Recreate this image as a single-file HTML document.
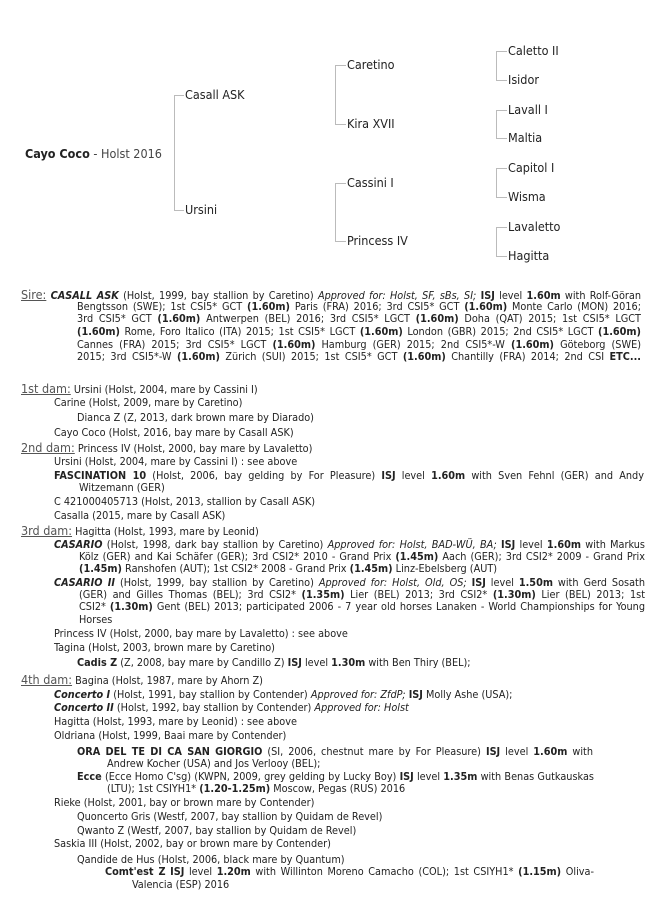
<!DOCTYPE html>
<html><head><meta charset="utf-8"><style>
html,body{margin:0;padding:0;background:#fff;}
body{width:670px;height:908px;position:relative;overflow:hidden;font-family:"DejaVu Sans Condensed","DejaVu Sans","Liberation Sans",sans-serif;color:#222;}
.t{position:absolute;font-size:12.5px;white-space:nowrap;line-height:14px;color:#222;}
.v{position:absolute;width:1px;background:#bbb;}
.h{position:absolute;height:1px;background:#bbb;}
.l{position:absolute;font-size:10.8px;line-height:12px;white-space:nowrap;}
.j{text-align:justify;text-align-last:justify;}
.lab{font-size:12.5px;color:#555;text-decoration:underline;}
b{font-weight:bold;}
</style></head><body>
<!-- tree -->
<div class="t" style="left:25px;top:147px;font-size:12.5px;"><b>Cayo Coco</b> <span style="color:#444">- Holst 2016</span></div>
<div class="v" style="left:174px;top:95px;height:116px;"></div>
<div class="h" style="left:174px;top:95px;width:10px;"></div>
<div class="h" style="left:174px;top:210px;width:10px;"></div>
<div class="t" style="left:185px;top:88px;">Casall ASK</div>
<div class="t" style="left:185px;top:203px;">Ursini</div>

<div class="v" style="left:335px;top:65px;height:59px;"></div>
<div class="h" style="left:335px;top:65px;width:11px;"></div>
<div class="h" style="left:335px;top:124px;width:11px;"></div>
<div class="v" style="left:335px;top:183px;height:58px;"></div>
<div class="h" style="left:335px;top:183px;width:11px;"></div>
<div class="h" style="left:335px;top:241px;width:11px;"></div>
<div class="t" style="left:347px;top:58px;">Caretino</div>
<div class="t" style="left:347px;top:117px;">Kira XVII</div>
<div class="t" style="left:347px;top:176px;">Cassini I</div>
<div class="t" style="left:347px;top:234px;">Princess IV</div>

<div class="v" style="left:496px;top:51px;height:29px;"></div>
<div class="h" style="left:496px;top:51px;width:11px;"></div>
<div class="h" style="left:496px;top:80px;width:11px;"></div>
<div class="v" style="left:496px;top:110px;height:28px;"></div>
<div class="h" style="left:496px;top:110px;width:11px;"></div>
<div class="h" style="left:496px;top:138px;width:11px;"></div>
<div class="v" style="left:496px;top:168px;height:29px;"></div>
<div class="h" style="left:496px;top:168px;width:11px;"></div>
<div class="h" style="left:496px;top:197px;width:11px;"></div>
<div class="v" style="left:496px;top:227px;height:29px;"></div>
<div class="h" style="left:496px;top:227px;width:11px;"></div>
<div class="h" style="left:496px;top:256px;width:11px;"></div>
<div class="t" style="left:508px;top:44px;">Caletto II</div>
<div class="t" style="left:508px;top:73px;">Isidor</div>
<div class="t" style="left:508px;top:103px;">Lavall I</div>
<div class="t" style="left:508px;top:131px;">Maltia</div>
<div class="t" style="left:508px;top:161px;">Capitol I</div>
<div class="t" style="left:508px;top:190px;">Wisma</div>
<div class="t" style="left:508px;top:220px;">Lavaletto</div>
<div class="t" style="left:508px;top:249px;">Hagitta</div>

<!-- Sire -->
<div class="l j" style="left:21px;top:289px;width:620px;"><span class="lab">Sire:</span> <b><i>CASALL ASK</i></b> (Holst, 1999, bay stallion by Caretino) <i>Approved for: Holst, SF, sBs, SI;</i> <b>ISJ</b> level <b>1.60m</b> with Rolf-Göran</div>
<div class="l j" style="left:77px;top:301px;width:564px;">Bengtsson (SWE); 1st CSI5* GCT <b>(1.60m)</b> Paris (FRA) 2016; 3rd CSI5* GCT <b>(1.60m)</b> Monte Carlo (MON) 2016;</div>
<div class="l j" style="left:77px;top:313px;width:564px;">3rd CSI5* GCT <b>(1.60m)</b> Antwerpen (BEL) 2016; 3rd CSI5* LGCT <b>(1.60m)</b> Doha (QAT) 2015; 1st CSI5* LGCT</div>
<div class="l j" style="left:77px;top:326px;width:564px;"><b>(1.60m)</b> Rome, Foro Italico (ITA) 2015; 1st CSI5* LGCT <b>(1.60m)</b> London (GBR) 2015; 2nd CSI5* LGCT <b>(1.60m)</b></div>
<div class="l j" style="left:77px;top:339px;width:564px;">Cannes (FRA) 2015; 3rd CSI5* LGCT <b>(1.60m)</b> Hamburg (GER) 2015; 2nd CSI5*-W <b>(1.60m)</b> Göteborg (SWE)</div>
<div class="l j" style="left:77px;top:351px;width:564px;">2015; 3rd CSI5*-W <b>(1.60m)</b> Zürich (SUI) 2015; 1st CSI5* GCT <b>(1.60m)</b> Chantilly (FRA) 2014; 2nd CSI <b>ETC...</b></div>

<!-- 1st dam -->
<div class="l" style="left:21px;top:383px;"><span class="lab">1st dam:</span> Ursini (Holst, 2004, mare by Cassini I)</div>
<div class="l" style="left:54px;top:397px;">Carine (Holst, 2009, mare by Caretino)</div>
<div class="l" style="left:77px;top:412px;">Dianca Z (Z, 2013, dark brown mare by Diarado)</div>
<div class="l" style="left:54px;top:427px;">Cayo Coco (Holst, 2016, bay mare by Casall ASK)</div>

<!-- 2nd dam -->
<div class="l" style="left:21px;top:442px;"><span class="lab">2nd dam:</span> Princess IV (Holst, 2000, bay mare by Lavaletto)</div>
<div class="l" style="left:54px;top:456px;">Ursini (Holst, 2004, mare by Cassini I) : see above</div>
<div class="l j" style="left:54px;top:470px;width:590px;"><b>FASCINATION 10</b> (Holst, 2006, bay gelding by For Pleasure) <b>ISJ</b> level <b>1.60m</b> with Sven Fehnl (GER) and Andy</div>
<div class="l" style="left:79px;top:482px;">Witzemann (GER)</div>
<div class="l" style="left:54px;top:496px;">C 421000405713 (Holst, 2013, stallion by Casall ASK)</div>
<div class="l" style="left:54px;top:510px;">Casalla (2015, mare by Casall ASK)</div>

<!-- 3rd dam -->
<div class="l" style="left:21px;top:525px;"><span class="lab">3rd dam:</span> Hagitta (Holst, 1993, mare by Leonid)</div>
<div class="l j" style="left:54px;top:539px;width:591px;"><b><i>CASARIO</i></b> (Holst, 1998, dark bay stallion by Caretino) <i>Approved for: Holst, BAD-WÜ, BA;</i> <b>ISJ</b> level <b>1.60m</b> with Markus</div>
<div class="l j" style="left:79px;top:551px;width:566px;">Kölz (GER) and Kai Schäfer (GER); 3rd CSI2* 2010 - Grand Prix <b>(1.45m)</b> Aach (GER); 3rd CSI2* 2009 - Grand Prix</div>
<div class="l" style="left:79px;top:563px;"><b>(1.45m)</b> Ranshofen (AUT); 1st CSI2* 2008 - Grand Prix <b>(1.45m)</b> Linz-Ebelsberg (AUT)</div>
<div class="l j" style="left:54px;top:577px;width:591px;"><b><i>CASARIO II</i></b> (Holst, 1999, bay stallion by Caretino) <i>Approved for: Holst, Old, OS;</i> <b>ISJ</b> level <b>1.50m</b> with Gerd Sosath</div>
<div class="l j" style="left:79px;top:589px;width:566px;">(GER) and Gilles Thomas (BEL); 3rd CSI2* <b>(1.35m)</b> Lier (BEL) 2013; 3rd CSI2* <b>(1.30m)</b> Lier (BEL) 2013; 1st</div>
<div class="l j" style="left:79px;top:601px;width:566px;">CSI2* <b>(1.30m)</b> Gent (BEL) 2013; participated 2006 - 7 year old horses Lanaken - World Championships for Young</div>
<div class="l" style="left:79px;top:614px;">Horses</div>
<div class="l" style="left:54px;top:628px;">Princess IV (Holst, 2000, bay mare by Lavaletto) : see above</div>
<div class="l" style="left:54px;top:642px;">Tagina (Holst, 2003, brown mare by Caretino)</div>
<div class="l" style="left:77px;top:657px;"><b>Cadis Z</b> (Z, 2008, bay mare by Candillo Z) <b>ISJ</b> level <b>1.30m</b> with Ben Thiry (BEL);</div>

<!-- 4th dam -->
<div class="l" style="left:21px;top:674px;"><span class="lab">4th dam:</span> Bagina (Holst, 1987, mare by Ahorn Z)</div>
<div class="l" style="left:54px;top:689px;"><b><i>Concerto I</i></b> (Holst, 1991, bay stallion by Contender) <i>Approved for: ZfdP;</i> <b>ISJ</b> Molly Ashe (USA);</div>
<div class="l" style="left:54px;top:702px;"><b><i>Concerto II</i></b> (Holst, 1992, bay stallion by Contender) <i>Approved for: Holst</i></div>
<div class="l" style="left:54px;top:716px;">Hagitta (Holst, 1993, mare by Leonid) : see above</div>
<div class="l" style="left:54px;top:730px;">Oldriana (Holst, 1999, Baai mare by Contender)</div>
<div class="l j" style="left:77px;top:746px;width:516px;"><b>ORA DEL TE DI CA SAN GIORGIO</b> (SI, 2006, chestnut mare by For Pleasure) <b>ISJ</b> level <b>1.60m</b> with</div>
<div class="l" style="left:107px;top:758px;">Andrew Kocher (USA) and Jos Verlooy (BEL);</div>
<div class="l j" style="left:77px;top:771px;width:517px;"><b>Ecce</b> (Ecce Homo C'sg) (KWPN, 2009, grey gelding by Lucky Boy) <b>ISJ</b> level <b>1.35m</b> with Benas Gutkauskas</div>
<div class="l" style="left:107px;top:783px;">(LTU); 1st CSIYH1* <b>(1.20-1.25m)</b> Moscow, Pegas (RUS) 2016</div>
<div class="l" style="left:54px;top:797px;">Rieke (Holst, 2001, bay or brown mare by Contender)</div>
<div class="l" style="left:77px;top:811px;">Quoncerto Gris (Westf, 2007, bay stallion by Quidam de Revel)</div>
<div class="l" style="left:77px;top:825px;">Qwanto Z (Westf, 2007, bay stallion by Quidam de Revel)</div>
<div class="l" style="left:54px;top:838px;">Saskia III (Holst, 2002, bay or brown mare by Contender)</div>
<div class="l" style="left:77px;top:854px;">Qandide de Hus (Holst, 2006, black mare by Quantum)</div>
<div class="l j" style="left:105px;top:866px;width:489px;"><b>Comt'est Z</b> <b>ISJ</b> level <b>1.20m</b> with Willinton Moreno Camacho (COL); 1st CSIYH1* <b>(1.15m)</b> Oliva-</div>
<div class="l" style="left:132px;top:879px;">Valencia (ESP) 2016</div>
</body></html>
